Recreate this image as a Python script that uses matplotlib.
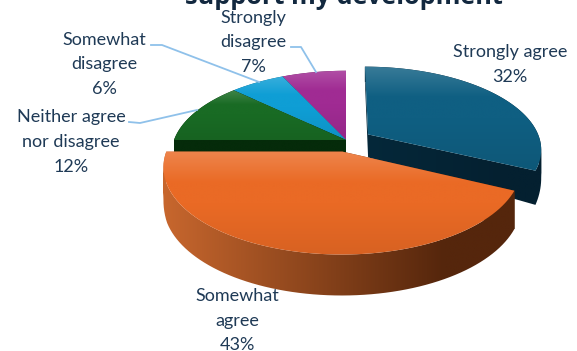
import matplotlib
matplotlib.use('Agg')
import matplotlib.pyplot as plt
from matplotlib.path import Path
from matplotlib.patches import PathPatch
import numpy as np

# chart data
labels = ['Strongly agree', 'Somewhat agree', 'Neither agree nor disagree',
          'Somewhat disagree', 'Strongly disagree']
values = [32, 43, 12, 6, 7]
title = 'support my development'

# slice looks
top_colors = ['#0F5F82', '#EA6A25', '#196B24', '#0F9ED5', '#A02B93']
side_left = ['#05283A', '#C8672E', '#052B0A', '#0A5F80', '#601A58']
side_right = ['#042030', '#55260C', '#052B0A', '#0A5F80', '#601A58']
explode = [(0.13, 0.07), (-0.02, -0.14), (0, 0), (0, 0), (0, 0)]
draw_order = [4, 3, 2, 0, 1]

text_color = '#1F3A56'
leader_color = '#8FC1EA'
cx, cy = 346.0, 140.0
R, B, persp = 172.0, 81.0, 0.17

label_pos = [(510, [52, 77]), (237, [296, 321, 345]), (71, [117, 142, 167]),
             (104, [40, 64, 89]), (253, [18, 42, 67])]
label_lines = [['Strongly agree'], ['Somewhat', 'agree'], ['Neither agree', 'nor disagree'],
               ['Somewhat', 'disagree'], ['Strongly', 'disagree']]
leaders = [([129, 140, 197], [122, 123, 110]),
           ([151, 162, 259], [45, 45, 82]),
           ([291, 301, 316], [47, 47, 72])]


def project(u, v):
    w = 1 + persp * v
    return cx + R * u / w, cy - B * v / w, v


def depth(v):
    return np.interp(v, [-1.15, -0.5, 0.07, 1.0], [41, 38, 23, 15])


def rgb(c):
    return np.array(matplotlib.colors.to_rgb(c))


def clipped_image(ax, img, path, extent):
    im = ax.imshow(img, extent=extent, aspect='auto', interpolation='bilinear', zorder=2)
    im.set_clip_path(PathPatch(path, transform=ax.transData))


fig = plt.figure(figsize=(5.77, 3.51), dpi=100)
ax = fig.add_axes([0, 0, 1, 1])

total = sum(values)
edges = np.cumsum([0] + values) / total * 2 * np.pi

for i in draw_order:
    th = np.linspace(edges[i], edges[i + 1], 80)
    du, dv = explode[i]
    uu = np.concatenate([[du], du + np.sin(th), [du]])
    vv = np.concatenate([[dv], dv + np.cos(th), [dv]])
    xs, ys, vs = project(uu, vv)
    ys_low = ys + depth(vs)

    # side walls: one quad per perimeter step, same winding so they add up
    verts, codes = [], []
    for k in range(len(xs) - 1):
        q = [(xs[k], ys[k]), (xs[k + 1], ys[k + 1]), (xs[k + 1], ys_low[k + 1]), (xs[k], ys_low[k])]
        qa = np.array(q)
        area = np.sum(qa[:, 0] * np.roll(qa[:, 1], -1) - np.roll(qa[:, 0], -1) * qa[:, 1])
        if area < 0:
            q = q[::-1]
        verts += q + [q[0]]
        codes += [Path.MOVETO, Path.LINETO, Path.LINETO, Path.LINETO, Path.CLOSEPOLY]
    side_path = Path(verts, codes)

    x0, x1 = xs.min() - 1, xs.max() + 1
    t = np.linspace(0, 1, 200)[None, :, None]
    img = rgb(side_left[i])[None, None, :] * (1 - np.minimum(t / 0.8, 1)) + \
        rgb(side_right[i])[None, None, :] * np.minimum(t / 0.8, 1)
    clipped_image(ax, np.clip(img, 0, 1), side_path, [x0, x1, ys_low.max() + 1, ys.min() - 1])

    # top face: pale sheen at the back edge, a little darker towards the front
    y0, y1 = ys.min() - 1, ys.max() + 1
    t = np.linspace(0, 1, 200)[:, None, None]
    base = rgb(top_colors[i])[None, None, :]
    sheen = np.clip(1 - t / 0.3, 0, 1) * 0.18
    shade = np.clip((t - 0.5) / 0.5, 0, 1) * 0.08
    img = base * (1 - sheen - shade) + sheen
    clipped_image(ax, np.clip(img, 0, 1), Path(np.column_stack([xs, ys])), [x0, x1, y1, y0])

for lx, ly in leaders:
    ax.plot(lx, ly, color=leader_color, lw=1.3, zorder=3, solid_joinstyle='round')

for i in range(len(labels)):
    x, ypos = label_pos[i]
    lines = label_lines[i] + ['%d%%' % values[i]]
    for s, y in zip(lines, ypos):
        ax.text(x, y, s, ha='center', va='center', color=text_color, fontsize=13,
                family='Lato', zorder=4)

ax.text(344, 4, title, ha='center', va='baseline', color='#12283F', fontsize=18.2,
        family='Open Sans', fontweight='bold', zorder=4)

ax.set_xlim(0, 577)
ax.set_ylim(351, 0)
ax.axis('off')
fig.savefig('out.png', dpi=100)
plt.close()
